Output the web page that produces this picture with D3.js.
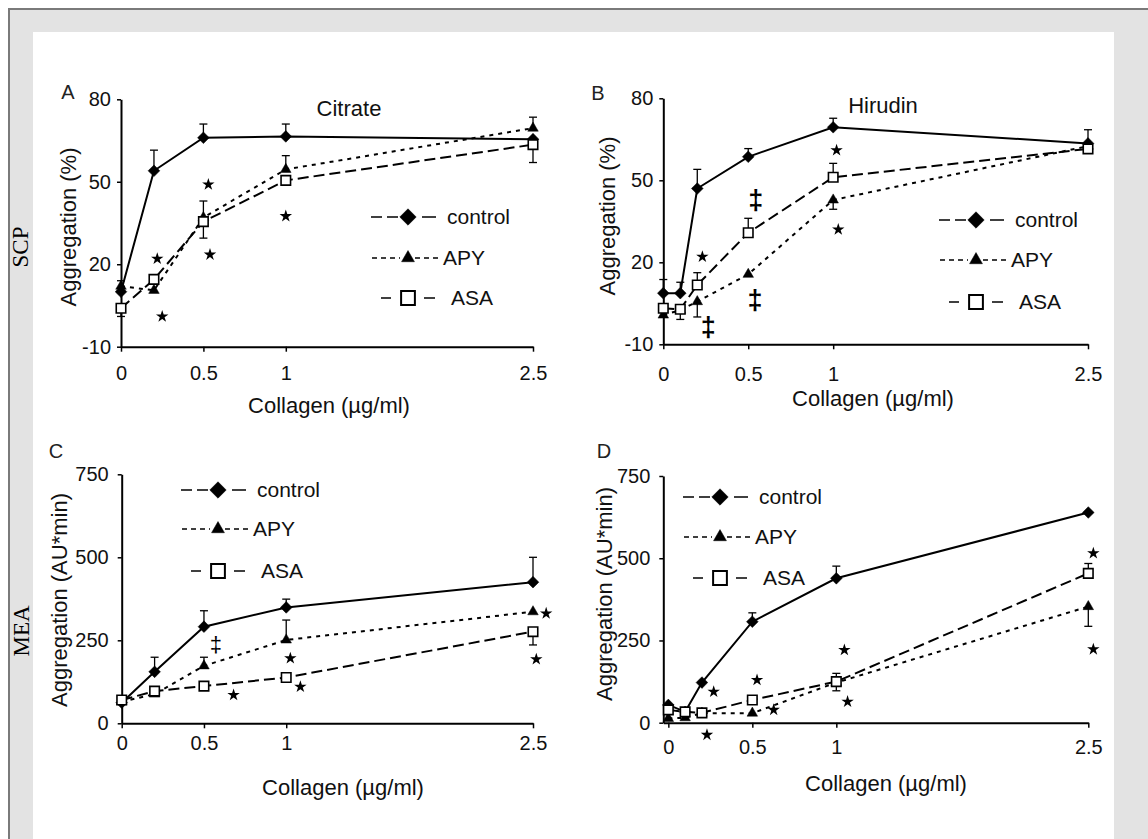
<!DOCTYPE html>
<html>
<head>
<meta charset="utf-8">
<script src="https://cdn.jsdelivr.net/npm/d3@7"></script>
<style>
  body { margin: 0; background: #fff; }
  svg { display: block; }
  text { font-family: "Liberation Sans", Arial, sans-serif; }
</style>
</head>
<body>
<div id="chart"></div>
<script>
// collagen doses (µg/ml)
const dosesAC = [0, 0.2, 0.5, 1, 2.5];
const dosesBD = [0, 0.1, 0.2, 0.5, 1, 2.5];
const xTickValues = [0, 0.5, 1, 2.5];
const xTickLabels = ["0", "0.5", "1", "2.5"];
const scpTicks = [-10, 20, 50, 80];
const meaTicks = [0, 250, 500, 750];
const seriesNames = ["control", "APY", "ASA"];

// A - SCP, citrate (%)   err > 0 : upper whisker, err < 0 : lower whisker
const controlA = [10, 54, 66, 66.5, 65.5];
const controlAErr = [4, 7.5, 5, 4.5, 0];
const apyA = [12, 10.5, 37, 54.5, 69.5];
const apyAErr = [0, 0, 6, 5, 4];
const asaA = [4, 14.5, 35.5, 50.5, 63.5];
const asaAErr = [-3, 0, -6, 0, -6.5];

// B - SCP, hirudin (%)
const controlB = [8.7, 8.7, 47, 58.6, 69.4, 63.5];
const controlBErr = [5, 4, 7, 3, 3.3, 5];
const apyB = [0.7, 2.5, 5.6, 15.6, 42.8, 62.5];
const apyBErr = [0, 0, -5.6, 0, -3.4, 0];
const asaB = [3.2, 2.8, 11.7, 30.8, 51.1, 61.5];
const asaBErr = [0, -3.7, 4.5, 5.3, 5.1, -1.5];

// C - MEA, citrate (AU*min)
const controlC = [62, 155, 291, 349, 425];
const controlCErr = [0, 44, 48, 25, 75];
const apyC = [65, 88, 173, 251, 336];
const apyCErr = [0, 0, 26, 60, 0];
const asaC = [70, 97, 112, 138, 276];
const asaCErr = [0, 0, 0, -12, -40];

// D - MEA, hirudin (AU*min)
const controlD = [54, 33, 122, 307, 439, 639];
const controlDErr = [0, 0, 0, 27, 37, 0];
const apyD = [13, 15, 29, 29, 122, 353];
const apyDErr = [0, 0, 0, 0, -25, -60];
const asaD = [39, 33, 30, 69, 125, 454];
const asaDErr = [0, 0, 0, 0, 25, 30];

// significance marks [dose, value]
const starsA = [[0.22, 22], [0.25, 1], [0.53, 49], [0.54, 23.5], [1.0, 37.5]];
const starsB = [[1.02, 61], [1.03, 32], [0.23, 22]];
const daggersB = [[0.545, 43.4], [0.54, 6.5], [0.265, -3.3]];
const starsC = [[1.025, 196], [1.086, 110], [0.68, 85], [2.58, 331], [2.52, 193]];
const daggersC = [[0.573, 241]];
const starsD = [[0.27, 94], [0.23, -37], [0.528, 130], [0.627, 39], [1.048, 221], [1.067, 64], [2.53, 515], [2.53, 223]];

const W = 1148, H = 839;

const seriesStyle = {
  control: { dash: null, marker: "diamond" },
  APY: { dash: "4,5", marker: "triangle" },
  ASA: { dash: "11,5", marker: "square" }
};

const panels = [
  { letter: "A", letterPos: [68, 92], title: "Citrate", titlePos: [349, 108],
    doses: dosesAC, data: [[controlA, controlAErr], [apyA, apyAErr], [asaA, asaAErr]],
    stars: starsA, daggers: [], boldDagger: false,
    xDomain: [0, 2.5], left: 121, right: 533, yDomain: [-10, 80], top: 99.3, bottom: 346.7,
    yTicks: scpTicks, yLabel: "Aggregation (%)", yLabelPos: [68, 227], xLabelPos: [329, 405],
    xPad: 14, yPad: 6, legend: { x: 408, rows: [217, 258, 298] } },
  { letter: "B", letterPos: [598, 93], title: "Hirudin", titlePos: [883, 105],
    doses: dosesBD, data: [[controlB, controlBErr], [apyB, apyBErr], [asaB, asaBErr]],
    stars: starsB, daggers: daggersB, boldDagger: true,
    xDomain: [0, 2.5], left: 663.3, right: 1088, yDomain: [-10, 80], top: 98.3, bottom: 344.3,
    yTicks: scpTicks, yLabel: "Aggregation (%)", yLabelPos: [607, 216], xLabelPos: [873, 398],
    xPad: 18, yPad: 6, legend: { x: 976, rows: [220, 260, 302] } },
  { letter: "C", letterPos: [56, 451], title: null,
    doses: dosesAC, data: [[controlC, controlCErr], [apyC, apyCErr], [asaC, asaCErr]],
    stars: starsC, daggers: daggersC, boldDagger: false,
    xDomain: [0, 2.5], left: 121.7, right: 533, yDomain: [0, 750], top: 474.3, bottom: 723.3,
    yTicks: meaTicks, yLabel: "Aggregation (AU*min)", yLabelPos: [59, 600], xLabelPos: [343, 787],
    xPad: 8, yPad: 9, legend: { x: 218, rows: [490, 529, 571] } },
  { letter: "D", letterPos: [604, 451], title: null,
    doses: dosesBD, data: [[controlD, controlDErr], [apyD, apyDErr], [asaD, asaDErr]],
    stars: starsD, daggers: [], boldDagger: false,
    xDomain: [-0.03, 2.5], left: 663.3, right: 1088.3, yDomain: [0, 750], top: 476, bottom: 722.7,
    yTicks: meaTicks, yLabel: "Aggregation (AU*min)", yLabelPos: [604, 594], xLabelPos: [886, 783],
    xPad: 12, yPad: 9, legend: { x: 720, rows: [497, 537, 578] } }
];

const svg = d3.select("#chart").append("svg")
  .attr("width", W)
  .attr("height", H);

// frame
svg.append("rect").attr("width", W).attr("height", H).attr("fill", "#fff");
svg.append("rect").attr("x", 9).attr("y", 9).attr("width", W - 9).attr("height", H - 9).attr("fill", "#e3e3e3");
svg.append("line").attr("x1", 8).attr("x2", W).attr("y1", 9).attr("y2", 9).attr("stroke", "#7a7a7a").attr("stroke-width", 2);
svg.append("line").attr("x1", 9).attr("x2", 9).attr("y1", 8).attr("y2", H).attr("stroke", "#7a7a7a").attr("stroke-width", 2);
svg.append("rect").attr("x", 33).attr("y", 32).attr("width", 1114 - 33).attr("height", H - 32).attr("fill", "#fff");

// row labels
[["SCP", 20, 247], ["MEA", 21, 631]].forEach(([t, cx, cy]) => {
  svg.append("text")
    .attr("transform", `translate(${cx},${cy}) rotate(-90)`)
    .attr("text-anchor", "middle")
    .attr("dy", "0.35em")
    .style("font-family", "'Liberation Serif', 'Times New Roman', serif")
    .style("font-size", "23px")
    .attr("fill", "#000")
    .text(t);
});

function markerPath(type, big) {
  if (type === "diamond") return d3.symbol(d3.symbolSquare, big ? 135 : 68)();
  if (type === "triangle") return d3.symbol(d3.symbolTriangle, big ? 72 : 48)();
  return d3.symbol(d3.symbolSquare, big ? 190 : 90)();
}

function drawMarker(g, type, cx, cy, big) {
  g.append("path")
    .attr("d", markerPath(type, big))
    .attr("transform", `translate(${cx},${cy})` + (type === "diamond" ? " rotate(45)" : ""))
    .attr("fill", type === "square" ? "#fff" : "#000")
    .attr("stroke", "#000")
    .attr("stroke-width", type === "square" ? (big ? 2 : 1.6) : 0.5);
}

function drawPanel(p) {
  const x = d3.scaleLinear().domain(p.xDomain).range([p.left, p.right]);
  const y = d3.scaleLinear().domain(p.yDomain).range([p.bottom, p.top]);
  const g = svg.append("g");

  // x axis
  const xa = g.append("g")
    .attr("transform", `translate(0,${p.bottom})`)
    .call(d3.axisBottom(x)
      .tickValues(xTickValues)
      .tickFormat((d, i) => xTickLabels[i])
      .tickSize(5)
      .tickSizeOuter(0)
      .tickPadding(p.xPad));
  // y axis
  const ya = g.append("g")
    .attr("transform", `translate(${p.left},0)`)
    .call(d3.axisLeft(y)
      .tickValues(p.yTicks)
      .tickFormat(d => String(d))
      .tickSize(4)
      .tickSizeOuter(0)
      .tickPadding(p.yPad));
  [xa, ya].forEach(a => {
    a.attr("font-family", null).attr("font-size", null);
    a.select(".domain").attr("stroke", "#000").attr("stroke-width", 2);
    a.selectAll(".tick line").attr("stroke", "#000").attr("stroke-width", 1.5);
    a.selectAll(".tick text").style("font-size", "20px").attr("fill", "#111");
  });

  // series
  p.data.forEach(([vals, errs], si) => {
    const st = seriesStyle[seriesNames[si]];
    const line = d3.line()
      .x((d, i) => x(p.doses[i]))
      .y(d => y(d));
    g.append("path")
      .datum(vals)
      .attr("fill", "none")
      .attr("stroke", "#000")
      .attr("stroke-width", 2)
      .attr("stroke-dasharray", st.dash)
      .attr("d", line);

    // error bars
    vals.forEach((v, i) => {
      const e = errs[i];
      if (!e) return;
      const cx = x(p.doses[i]);
      g.append("line")
        .attr("x1", cx).attr("x2", cx)
        .attr("y1", y(v)).attr("y2", y(v + e))
        .attr("stroke", "#000").attr("stroke-width", 1.3);
      g.append("line")
        .attr("x1", cx - 4).attr("x2", cx + 4)
        .attr("y1", y(v + e)).attr("y2", y(v + e))
        .attr("stroke", "#000").attr("stroke-width", 1.3);
    });

    vals.forEach((v, i) => drawMarker(g, st.marker, x(p.doses[i]), y(v), false));
  });

  // significance marks
  g.selectAll(".star")
    .data(p.stars)
    .join("path")
    .attr("class", "star")
    .attr("d", d3.symbol(d3.symbolStar, 48))
    .attr("transform", d => `translate(${x(d[0])},${y(d[1])})`)
    .attr("fill", "#000");

  g.selectAll(".dagger")
    .data(p.daggers)
    .join("text")
    .attr("class", "dagger")
    .attr("x", d => x(d[0]))
    .attr("y", d => y(d[1]))
    .attr("text-anchor", "middle")
    .attr("dy", "0.38em")
    .style("font-size", p.boldDagger ? "27px" : "22px")
    .style("font-weight", p.boldDagger ? "bold" : "normal")
    .attr("fill", "#000")
    .text("‡");

  // legend
  const m = p.legend.x;
  const segs = [
    [[m - 37, m - 10, "11,5"], [m + 14, m + 28, null]],
    [[m - 36, m - 8, "5,4"], [m + 7, m + 31, "5,4"]],
    [[m - 27, m - 17, null], [m + 16, m + 27, null]]
  ];
  const textDx = [39, 35, 43];
  seriesNames.forEach((name, si) => {
    const ry = p.legend.rows[si];
    segs[si].forEach(([a, b, dash]) => {
      g.append("line")
        .attr("x1", a).attr("x2", b)
        .attr("y1", ry).attr("y2", ry)
        .attr("stroke", "#000")
        .attr("stroke-width", 1.5)
        .attr("stroke-dasharray", dash);
    });
    drawMarker(g, seriesStyle[name].marker, m, ry, true);
    g.append("text")
      .attr("x", m + textDx[si])
      .attr("y", ry)
      .attr("dy", "0.35em")
      .style("font-size", "21px")
      .attr("fill", "#111")
      .text(name);
  });

  // labels
  g.append("text")
    .attr("x", p.letterPos[0]).attr("y", p.letterPos[1])
    .attr("text-anchor", "middle").attr("dy", "0.35em")
    .style("font-size", "20px").attr("fill", "#222")
    .text(p.letter);

  if (p.title) {
    g.append("text")
      .attr("x", p.titlePos[0]).attr("y", p.titlePos[1])
      .attr("text-anchor", "middle").attr("dy", "0.35em")
      .style("font-size", "22px").attr("fill", "#111")
      .text(p.title);
  }

  g.append("text")
    .attr("x", p.xLabelPos[0]).attr("y", p.xLabelPos[1])
    .attr("text-anchor", "middle").attr("dy", "0.35em")
    .style("font-size", "22px").attr("fill", "#111")
    .text("Collagen (µg/ml)");

  g.append("text")
    .attr("transform", `translate(${p.yLabelPos[0]},${p.yLabelPos[1]}) rotate(-90)`)
    .attr("text-anchor", "middle").attr("dy", "0.35em")
    .style("font-size", "22px").attr("fill", "#111")
    .text(p.yLabel);
}

panels.forEach(drawPanel);
</script>
</body>
</html>
